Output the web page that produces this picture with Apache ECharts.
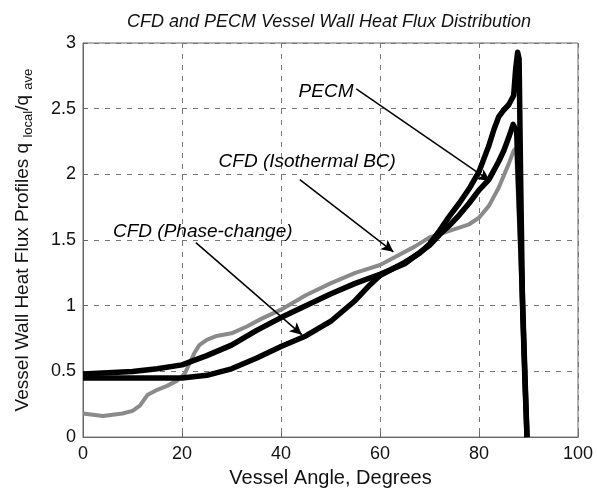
<!DOCTYPE html>
<html>
<head>
<meta charset="utf-8">
<script src="https://cdn.jsdelivr.net/npm/echarts@6/dist/echarts.min.js"></script>
<style>
html,body{margin:0;padding:0;background:#fff;}
#chart{width:597px;height:493px;}
</style>
</head>
<body>
<div id="chart"></div>
<script>
// ---------- data ----------
const xTicks = [0, 20, 40, 60, 80, 100];
const yTicks = [0, 0.5, 1, 1.5, 2, 2.5, 3];

// CFD (Isothermal BC) – gray curve
const isoAngle = [0, 2, 4, 6, 8, 10, 11.5, 13, 15, 17, 19, 20.5, 21.5, 22.5, 23.5, 25, 27, 30, 33, 36, 40, 45, 50, 55, 60, 64, 67, 70, 74, 78, 80, 82, 84, 86, 87, 87.5, 88.5, 89.7];
const isoValue = [0.18, 0.17, 0.16, 0.17, 0.18, 0.20, 0.24, 0.32, 0.36, 0.39, 0.43, 0.48, 0.56, 0.64, 0.70, 0.74, 0.77, 0.79, 0.84, 0.90, 0.97, 1.08, 1.17, 1.25, 1.31, 1.39, 1.45, 1.52, 1.57, 1.62, 1.67, 1.76, 1.90, 2.08, 2.18, 2.20, 1.2, 0];

// PECM – thick black curve starting at 0.48
const pecmAngle = [0, 5, 10, 15, 20, 25, 30, 35, 40, 45, 50, 55, 60, 65, 70, 72, 74, 76, 78, 80, 82, 84, 85, 86, 86.9, 87.6, 88.4, 89.0, 89.7];
const pecmValue = [0.48, 0.49, 0.50, 0.52, 0.55, 0.62, 0.70, 0.81, 0.91, 1.00, 1.09, 1.17, 1.24, 1.32, 1.46, 1.54, 1.61, 1.69, 1.78, 1.88, 1.96, 2.10, 2.18, 2.28, 2.38, 2.33, 1.5, 0.8, 0];

// CFD (Phase-change) – thick black curve starting at 0.45, sharp peak
const phaseAngle = [0, 5, 10, 15, 20, 25, 30, 35, 40, 45, 50, 55, 58, 60, 62, 65, 68, 70, 72, 74, 76, 78, 80, 81, 82, 83, 84, 85, 86, 87, 87.4, 87.8, 88.1, 88.4, 88.8, 89.3, 89.7];
const phaseValue = [0.45, 0.45, 0.45, 0.45, 0.45, 0.47, 0.52, 0.60, 0.69, 0.77, 0.88, 1.04, 1.16, 1.23, 1.27, 1.33, 1.40, 1.47, 1.57, 1.68, 1.78, 1.89, 2.02, 2.12, 2.22, 2.34, 2.44, 2.49, 2.53, 2.60, 2.80, 2.93, 2.88, 2.0, 1.0, 0.4, 0];

// annotation texts and arrows (data coordinates)
const noteText = ['PECM', 'CFD (Isothermal BC)', 'CFD (Phase-change)'];
const noteX = [49.1, 45.3, 24.2];
const noteY = [2.63, 2.10, 1.56];
const arrowFromX = [55.2, 43.8, 22.8];
const arrowFromY = [2.65, 1.96, 1.48];
const arrowToX = [82.2, 62.7, 44.2];
const arrowToY = [1.95, 1.41, 0.78];

// ---------- chart ----------
const FONT = 'Liberation Sans, Arial, sans-serif';
const zip = (a, b) => a.map((v, i) => [v, b[i]]);

const chart = echarts.init(document.getElementById('chart'), null, {renderer: 'canvas'});

const option = {
  animation: false,
  backgroundColor: '#fff',
  title: {
    text: 'CFD and PECM Vessel Wall Heat Flux Distribution',
    left: 324, textAlign: 'center', top: 8,
    textStyle: {fontFamily: FONT, fontSize: 18, fontStyle: 'italic', fontWeight: 'normal', color: '#111'}
  },
  grid: {left: 83, right: 19, top: 43, bottom: 52, show: true, borderColor: '#666', borderWidth: 1},
  xAxis: {
    type: 'value', min: 0, max: 100, interval: 20,
    name: 'Vessel Angle, Degrees', nameLocation: 'middle', nameGap: 28,
    nameTextStyle: {fontFamily: FONT, fontSize: 20, color: '#111'},
    axisLine: {show: true, onZero: false, lineStyle: {color: '#666'}},
    axisTick: {show: true, inside: true, length: 5, lineStyle: {color: '#666'}},
    axisLabel: {fontFamily: FONT, fontSize: 18, color: '#111', margin: 8},
    splitLine: {show: true, lineStyle: {color: '#777', type: [5, 6], width: 1}}
  },
  yAxis: {
    type: 'value', min: 0, max: 3, interval: 0.5,
    name: 'Vessel Wall Heat Flux Profiles q {s|local}/q {s|ave}',
    nameLocation: 'middle', nameGap: 48, nameRotate: 90,
    nameTextStyle: {fontFamily: FONT, fontSize: 19, color: '#111',
      rich: {s: {fontFamily: FONT, fontSize: 13, color: '#111', padding: [12, 0, 0, 0]}}},
    axisLine: {show: true, lineStyle: {color: '#666'}},
    axisTick: {show: true, inside: true, length: 5, lineStyle: {color: '#666'}},
    axisLabel: {fontFamily: FONT, fontSize: 18, color: '#111', margin: 7},
    splitLine: {show: true, lineStyle: {color: '#777', type: [5, 6], width: 1}}
  },
  series: [
    {
      name: 'CFD (Isothermal BC)', type: 'line', data: zip(isoAngle, isoValue),
      showSymbol: false, lineStyle: {color: '#8a8a8a', width: 4}, z: 2
    },
    {
      name: 'PECM', type: 'line', data: zip(pecmAngle, pecmValue),
      showSymbol: false, lineStyle: {color: '#000', width: 5.5, join: 'round'}, z: 3
    },
    {
      name: 'CFD (Phase-change)', type: 'line', data: zip(phaseAngle, phaseValue),
      showSymbol: false, lineStyle: {color: '#000', width: 5.5, join: 'round'}, z: 4,
      markLine: {
        silent: true, symbol: ['none', 'arrow'], symbolSize: [9, 12],
        lineStyle: {color: '#000', width: 1.5, type: 'solid'},
        label: {show: false},
        data: arrowFromX.map((x, i) => [{coord: [x, arrowFromY[i]]}, {coord: [arrowToX[i], arrowToY[i]]}])
      }
    },
    {
      name: 'notes', type: 'scatter', symbolSize: 0, z: 6,
      itemStyle: {color: '#000'},
      data: noteText.map((t, i) => [noteX[i], noteY[i], t]),
      label: {
        show: true, position: 'inside', formatter: p => p.value[2],
        fontFamily: FONT, fontSize: 19, fontStyle: 'italic', color: '#000',
        textBorderWidth: 0, textBorderColor: 'transparent', opacity: 1
      }
    }
  ]
};
chart.setOption(option);
</script>
</body>
</html>
